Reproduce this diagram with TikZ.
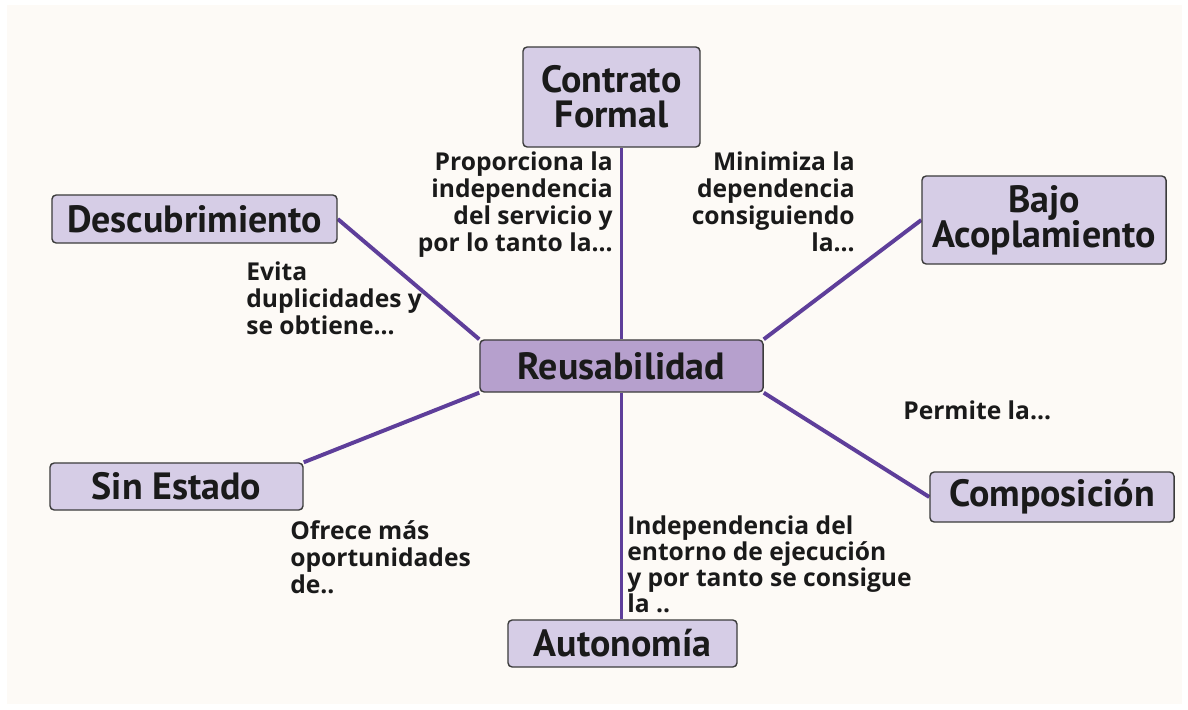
\documentclass[tikz,border=0pt]{standalone}
\usepackage{fontspec}
\setmainfont{PT Sans}
\newfontfamily\notafont{Open Sans}
\usepackage{tikz}
\usetikzlibrary{backgrounds}
\usepackage{xcolor}
\definecolor{ReuFondo}{HTML}{FDFAF6}
\definecolor{ReuLila}{HTML}{D6CDE6}
\definecolor{ReuCentro}{HTML}{B6A0CD}
\definecolor{ReuLinea}{HTML}{5E3E9A}
\definecolor{ReuTexto}{HTML}{1A1A1A}

\tikzset{
  concepto/.style={draw=ReuTexto!85,fill=ReuLila,rounded corners=3pt,line width=1pt,
    text=ReuTexto,align=center,inner sep=0pt,
    font=\bfseries\fontsize{27}{27}\selectfont},
  enlace/.style={ReuLinea,line width=2.8pt},
  nota/.style={text=ReuTexto,inner sep=0pt,font=\notafont\bfseries\fontsize{17.5}{19.2}\selectfont}
}

\begin{document}
\begin{tikzpicture}[x=0.025cm,y=-0.025cm]
  \useasboundingbox (0,0) rectangle (1188,709);

  \node[concepto,fill=ReuCentro,minimum width=7.075cm,minimum height=1.3cm] (reus) at (621.5,366) {Reusabilidad};
  \node[concepto,minimum width=4.425cm,minimum height=2.5cm] (contrato) at (611.5,97) {Contrato\\[-2pt]Formal};
  \node[concepto,minimum width=7.125cm,minimum height=1.2cm] (descub) at (194.5,219) {Descubrimiento};
  \node[concepto,minimum width=6.1cm,minimum height=2.2cm] (bajo) at (1044,220) {Bajo\\[-2pt]Acoplamiento};
  \node[concepto,minimum width=6.325cm,minimum height=1.175cm] (sinest) at (176.5,486.5) {Sin Estado};
  \node[concepto,minimum width=6.1cm,minimum height=1.25cm] (compo) at (1052,497) {Composición};
  \node[concepto,minimum width=5.725cm,minimum height=1.175cm] (auto) at (622.5,643.5) {Autonomía};

  \begin{scope}[on background layer]
  \fill[ReuFondo] (7,5) rectangle (1182,704);
  \draw[enlace] (reus.north) -- (reus.north |- contrato.south);
  \draw[enlace] (reus.south) -- (reus.south |- auto.north);
  \draw[enlace] (descub.east) -- (reus.north west);
  \draw[enlace] (bajo.west) -- (reus.north east);
  \draw[enlace] (sinest.north east) -- (reus.south west);
  \draw[enlace] (compo.west) -- (reus.south east);
  \end{scope}

  \node[nota,align=right,anchor=north east] (proporciona) at (613,152) {Proporciona la\\independencia\\del servicio y\\por lo tanto la...};
  \node[nota,align=right,anchor=north east] (minimiza) at (855,152) {Minimiza la\\dependencia\\consiguiendo\\la...};
  \node[nota,align=left,anchor=north west] (evita) at (246,262) {Evita\\duplicidades y\\se obtiene...};
  \node[nota,anchor=west] (permite) at (903,410) {Permite la...};
  \node[nota,align=left,anchor=north west] (ofrece) at (290,520) {Ofrece más\\oportunidades\\de..};
  \node[nota,align=left,anchor=north west,font=\notafont\bfseries\fontsize{17.5}{18.4}\selectfont] (independencia) at (627,516) {Independencia del\\entorno de ejecución\\y por tanto se consigue\\la ..};
\end{tikzpicture}
\end{document}
